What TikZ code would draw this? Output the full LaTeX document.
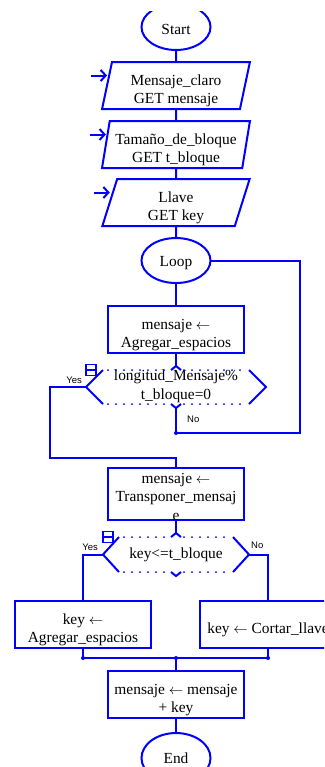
\documentclass[tikz,border=0pt]{standalone}
\usepackage{fontspec}
\setmainfont{Liberation Serif}
\setsansfont{Liberation Sans}
\usetikzlibrary{positioning}
\usetikzlibrary{shapes.geometric}
\usetikzlibrary{arrows.meta}

\begin{document}
\begin{tikzpicture}[x=1pt, y=1pt,
    flow/.style={draw=blue, line width=2pt},
    dots/.style={draw=blue, line width=2pt, line cap=round, dash pattern=on 0pt off 8pt},
    txt/.style={inner sep=0pt, outer sep=0pt, align=center, font=\fontsize{15.4}{18.5}\selectfont},
    term/.style={ellipse, flow, txt, minimum width=69pt, minimum height=45pt},
    inbox/.style={trapezium, trapezium left angle=80, trapezium right angle=100, trapezium stretches=true, flow, txt, minimum width=148pt, minimum height=47pt, text height=38pt, text depth=2pt},
    box/.style={rectangle, flow, txt, minimum width=136pt, minimum height=47pt, text height=38pt, text depth=2pt},
    dec/.style={rectangle, txt, minimum height=34pt},
    lbl/.style={font=\sffamily\fontsize{9.5}{11}\selectfont, inner sep=0pt},
    iconbox/.style={draw=blue, fill=white, line width=1.5pt, minimum width=10pt, minimum height=11pt, inner sep=0pt,
      path picture={\draw[blue, line width=1.5pt] (path picture bounding box.west) -- (path picture bounding box.east);}},
    dot/.style={circle, fill=blue, inner sep=0pt, minimum size=4pt},
    feed/.style={flow, -{Straight Barb[length=5pt, width=11pt]}}]
    \useasboundingbox (0,0) rectangle (324,-767);
    \clip (0,-12) rectangle (324,-767);

    \node[term, minimum height=46pt, text height=18pt, text depth=2pt] (start) at (176,-27) {Start};
    \node[inbox, below=12pt of start] (claro) {Mensaje\_claro\\GET mensaje};
    \node[inbox, below=12pt of claro] (bloque) {Tamaño\_de\_bloque\\GET t\_bloque};
    \node[inbox, below=11pt of bloque] (llave) {Llave\\GET key};
    \node[term, below=12pt of llave, text height=14pt, text depth=2pt] (loop) {Loop};
    \node[box, below=23pt of loop] (espacios) {mensaje $\leftarrow$\\Agregar\_espacios};
    \node[dec, minimum width=180pt, below=17pt of espacios, text height=26pt, text depth=2pt] (divide) {longitud\_Mensaje\%\\t\_bloque=0};
    \node[box, below=64pt of divide, text height=52pt, text depth=-6pt] (transponer) {mensaje $\leftarrow$\\Transponer\_mensaj\\e};
    \node[dec, minimum width=146pt, minimum height=35pt, below=17pt of transponer] (compara) {key<=t\_bloque};
    \node[box, below=29pt of compara, xshift=-93pt] (keyagregar) {key $\leftarrow$\\Agregar\_espacios};
    \node[box, below=29pt of compara, xshift=92pt, text height=20pt, text depth=2pt] (keycortar) {key $\leftarrow$ Cortar\_llave};
    \node[box, below=99pt of compara] (suma) {mensaje $\leftarrow$ mensaje\\+ key};
    \node[term, minimum height=50pt, below=15pt of suma] (fin) {End};

    % inputs
    \coordinate (inclaro) at ([xshift=-16pt, yshift=10pt]claro.west);
    \coordinate (inbloque) at ([xshift=-16pt, yshift=10pt]bloque.west);
    \coordinate (inllave) at ([xshift=-16pt, yshift=10pt]llave.west);
    \draw[feed] (inclaro) -- (inclaro -| claro.west);
    \draw[feed] (inbloque) -- (inbloque -| bloque.west);
    \draw[feed] (inllave) -- (inllave -| llave.west);

    % decision shapes
    \draw[flow] ([xshift=17pt]divide.north west) -- (divide.west) -- ([xshift=17pt]divide.south west);
    \draw[flow] ([xshift=-17pt]divide.north east) -- (divide.east) -- ([xshift=-17pt]divide.south east);
    \draw[dots] ([xshift=22pt]divide.north west) -- ([xshift=-8pt]divide.north);
    \draw[dots] ([xshift=8pt]divide.north) -- ([xshift=-20pt]divide.north east);
    \draw[dots] ([xshift=22pt]divide.south west) -- ([xshift=-8pt]divide.south);
    \draw[dots] ([xshift=8pt]divide.south) -- ([xshift=-20pt]divide.south east);
    \coordinate[above=4pt of divide.north] (divtop);
    \coordinate[below=4pt of divide.south] (divbot);
    \draw[flow] ([xshift=-5pt]divide.north) -- (divtop) -- ([xshift=5pt]divide.north);
    \draw[flow] ([xshift=-5pt]divide.south) -- (divbot) -- ([xshift=5pt]divide.south);

    \draw[flow] ([xshift=16pt]compara.north west) -- (compara.west) -- ([xshift=16pt]compara.south west);
    \draw[flow] ([xshift=-16pt]compara.north east) -- (compara.east) -- ([xshift=-16pt]compara.south east);
    \draw[dots] ([xshift=21pt]compara.north west) -- ([xshift=-8pt]compara.north);
    \draw[dots] ([xshift=8pt]compara.north) -- ([xshift=-19pt]compara.north east);
    \draw[dots] ([xshift=21pt]compara.south west) -- ([xshift=-8pt]compara.south);
    \draw[dots] ([xshift=8pt]compara.south) -- ([xshift=-19pt]compara.south east);
    \coordinate[above=4pt of compara.north] (comptop);
    \coordinate[below=4pt of compara.south] (compbot);
    \draw[flow] ([xshift=-5pt]compara.north) -- (comptop) -- ([xshift=5pt]compara.north);
    \draw[flow] ([xshift=-5pt]compara.south) -- (compbot) -- ([xshift=5pt]compara.south);

    \node[iconbox] (icon1) at ([xshift=5pt]divide.north west) {};
    \node[iconbox] (icon2) at ([xshift=5pt]compara.north west) {};

    % main flow
    \draw[flow] (start) -- (claro);
    \draw[flow] (claro) -- (bloque);
    \draw[flow] (bloque) -- (llave);
    \draw[flow] (llave) -- (loop);
    \draw[flow] (loop) -- (espacios);
    \draw[flow] (espacios) -- (divtop);

    % loop back on No
    \coordinate (loopback) at (300,-433);
    \draw[flow] (divbot) -- (divbot |- loopback) -- (loopback) |- (loop.east);
    \node[dot] (nodot) at (divbot |- loopback) {};
    \node[lbl, below right=12pt and 11pt of divide.south] (no1) {No};

    % exit on Yes
    \coordinate (yesturn) at (50,-458);
    \draw[flow] (divide.west) -| (yesturn) -| (transponer.north);
    \node[lbl, above left=3pt and 4pt of divide.west] (yes1) {Yes};

    \draw[flow] (transponer) -- (comptop);
    \draw[flow] (compara.west) -| (keyagregar.north);
    \draw[flow] (compara.east) -| (keycortar.north);
    \node[lbl, above left=4pt and 5pt of compara.west] (yes2) {Yes};
    \node[lbl, above right=6pt and 2pt of compara.east] (no2) {No};

    % join
    \coordinate[below=10pt of keyagregar] (merge);
    \draw[flow] (keyagregar) -- (merge) -- (merge -| keycortar.south) -- (keycortar);
    \draw[flow] (merge -| suma.north) -- (suma);
    \node[dot] (dotl) at (merge) {};
    \node[dot] (dotr) at (merge -| keycortar.south) {};
    \node[dot] (dotm) at (merge -| suma.north) {};
    \draw[flow] (suma) -- (fin);
\end{tikzpicture}
\end{document}
